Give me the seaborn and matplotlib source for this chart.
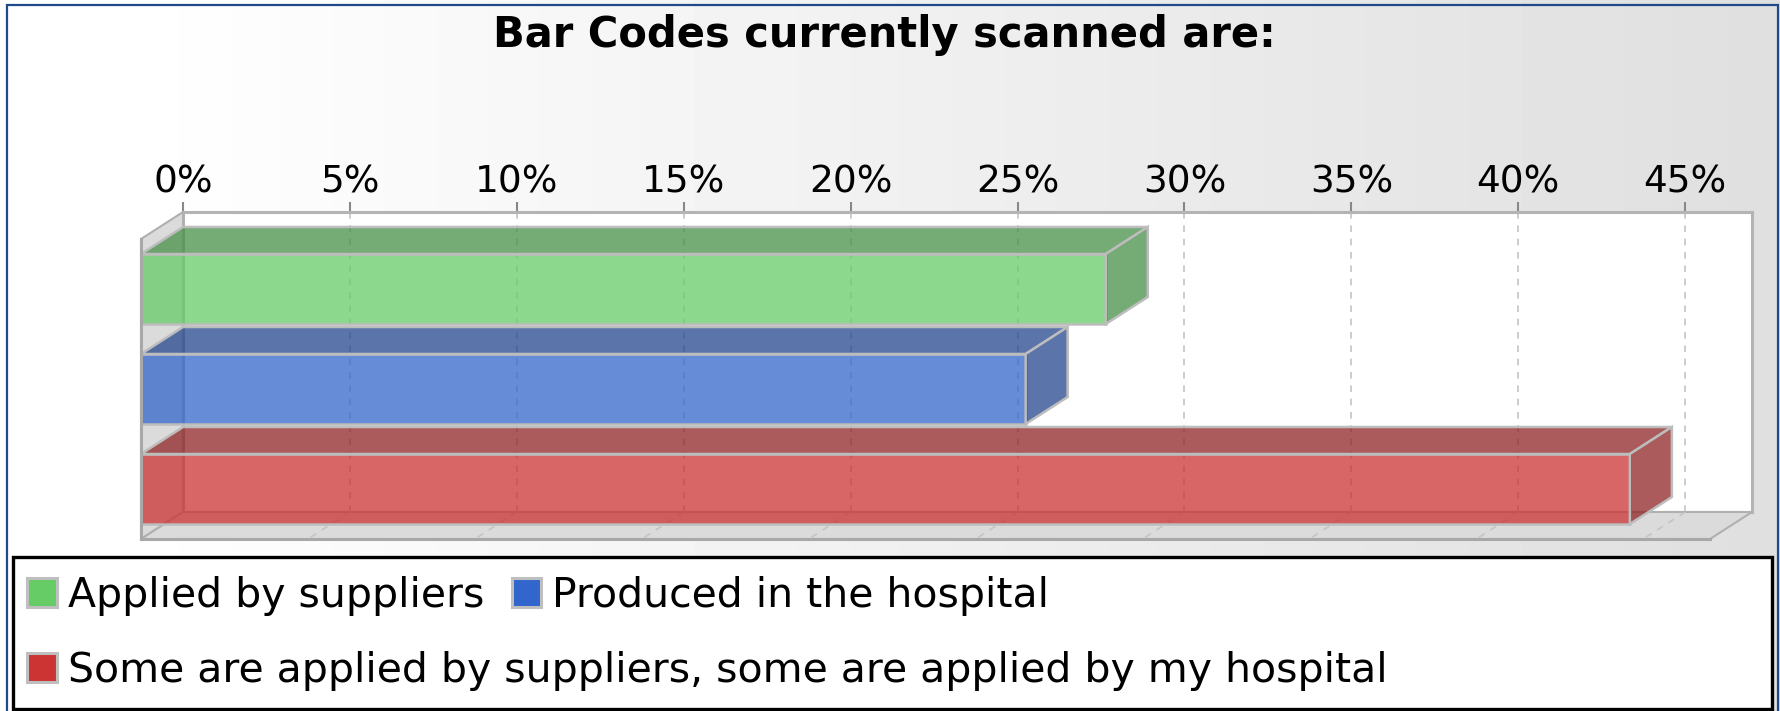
import numpy as np
import pandas as pd
import matplotlib
matplotlib.use("Agg")
import matplotlib.pyplot as plt
import seaborn as sns
from matplotlib.patches import Polygon, Patch, Rectangle
from matplotlib.colors import to_rgba, to_rgb

TITLE = "Bar Codes currently scanned are:"
categories = [
    "Applied by suppliers",
    "Produced in the hospital",
    "Some are applied by suppliers, some are applied by my hospital",
]
shares = [28.9, 26.5, 44.6]          # percent of answers
colors = ["#66CC66", "#3366CC", "#CC3333"]
tick_values = [0, 5, 10, 15, 20, 25, 30, 35, 40, 45]
tick_labels = ["0%", "5%", "10%", "15%", "20%", "25%", "30%", "35%", "40%", "45%"]
x_max = 47.0

W, H, DPI = 1780, 711, 100
DX, DY = 42, 27                      # 3d depth of the plot, in pixels
FRONT = (141, 239, 1710, 539)        # front plane: left, top, right, bottom (px)
EDGE = "#BDBDBD"
ALPHA = 0.75


def px_rect(l, t, r, b):
    return [l / W, 1 - b / H, (r - l) / W, (b - t) / H]


sns.set_theme(style="white")
plt.rcParams["font.family"] = ["DejaVu Sans"]
plt.rcParams["text.color"] = "black"

fig = plt.figure(figsize=(W / DPI, H / DPI), dpi=DPI)

# --- background: white on the left fading to light grey ---
bg = fig.add_axes([0, 0, 1, 1], zorder=-10)
xs = np.linspace(0, 1, 400)
shade = 1 - 0.125 * np.clip((xs - 0.07) / 0.93, 0, 1)
bg.imshow(shade[None, :], cmap="gray", vmin=0, vmax=1, aspect="auto",
          extent=[0, 1, 0, 1])
bg.set_axis_off()

# --- back wall (carries the value axis and the grid) ---
l, t, r, b = FRONT
ax_back = fig.add_axes(px_rect(l + DX, t - DY, r + DX, b - DY), zorder=1)
ax_back.set_facecolor("white")
ax_back.set_xlim(0, x_max)
ax_back.set_ylim(0, 1)
ax_back.set_yticks([])
ax_back.set_xticks(tick_values, tick_labels)
ax_back.tick_params(axis="x", top=True, bottom=False, labeltop=True,
                    labelbottom=False, length=7, width=1.5, color="#888888",
                    pad=1, labelsize=27, labelcolor="black")
ax_back.grid(axis="x", color="#C4C4C4", linestyle=(0, (4, 4)), linewidth=1.2)
for sp in ax_back.spines.values():
    sp.set_color("#B4B4B4")
    sp.set_linewidth(2.2)

# --- front plane with the bars ---
ax = fig.add_axes(px_rect(*FRONT), zorder=2)
ax.patch.set_alpha(0)
df = pd.DataFrame({"category": categories, "share": shares})
sns.barplot(data=df, x="share", y="category", hue="category", palette=colors,
            orient="h", width=0.7, saturation=1, legend=False, ax=ax)
ax.set_xlim(0, x_max)
ax.set_ylim(2.5, -0.5)
ax.set_xticks([])
ax.set_yticks([])
ax.set_xlabel("")
ax.set_ylabel("")
for side in ["top", "right"]:
    ax.spines[side].set_visible(False)
for side in ["left", "bottom"]:
    ax.spines[side].set_color("#A8A8A8")
    ax.spines[side].set_linewidth(2.2)

# depth offsets in data units
dxd = DX / ((r - l) / x_max)
dyd = DY / ((b - t) / 3.0)
y_top, y_bot = -0.5, 2.5

bars = list(ax.patches)

wall = "#DBDBDB"
left_wall = Polygon([(0, y_bot), (0, y_top), (dxd, y_top - dyd), (dxd, y_bot - dyd)],
                    closed=True, facecolor=wall, edgecolor="#B0B0B0",
                    linewidth=1.5, zorder=0.2, clip_on=False)
floor = Polygon([(0, y_bot), (dxd, y_bot - dyd), (x_max + dxd, y_bot - dyd), (x_max, y_bot)],
                closed=True, facecolor=wall, edgecolor="#B0B0B0",
                linewidth=1.5, zorder=0.2, clip_on=False)
ax.add_patch(left_wall)
ax.add_patch(floor)
for tv in tick_values[1:]:
    ax.plot([tv + dxd, tv], [y_bot - dyd, y_bot], color="#C4C4C4",
            linestyle=(0, (4, 4)), linewidth=1.2, zorder=0.3, clip_on=False)

# bar faces: front (translucent), top and right side (darker)
for p, c in zip(bars, colors):
    p.set_alpha(None)
    p.set_facecolor(to_rgba(c, ALPHA))
    p.set_edgecolor(EDGE)
    p.set_linewidth(1.8)
    p.set_zorder(2)
    x0, w = p.get_x(), p.get_width()
    y0, h = p.get_y(), p.get_height()
    dark = tuple(v * 0.7 for v in to_rgb(c)) + (ALPHA,)
    top = Polygon([(x0, y0), (x0 + w, y0), (x0 + w + dxd, y0 - dyd), (x0 + dxd, y0 - dyd)],
                  closed=True, facecolor=dark, edgecolor=EDGE, linewidth=1.8,
                  zorder=2, clip_on=False)
    side = Polygon([(x0 + w, y0), (x0 + w, y0 + h), (x0 + w + dxd, y0 + h - dyd),
                    (x0 + w + dxd, y0 - dyd)],
                   closed=True, facecolor=dark, edgecolor=EDGE, linewidth=1.8,
                   zorder=2, clip_on=False)
    ax.add_patch(top)
    ax.add_patch(side)

# --- title ---
fig.text(884 / W, 1 - 47 / H, TITLE, ha="center", va="baseline",
         fontsize=30, fontweight="bold", color="black")

# --- legend box, two rows like the original ---
fig.add_artist(Rectangle((13 / W, 1 - 709 / H), (1772 - 13) / W, (709 - 557) / H,
                         transform=fig.transFigure, facecolor="white",
                         edgecolor="black", linewidth=2.4, zorder=3))
handles = [Patch(facecolor=c, edgecolor="#BFBFBF", linewidth=2.2) for c in colors]
leg_kw = dict(loc="center left", frameon=False, fontsize=29.5, labelcolor="black",
              handlelength=0.72, handleheight=0.72, handletextpad=0.27,
              columnspacing=0.68, borderpad=0, borderaxespad=0)
leg1 = fig.legend(handles[:2], categories[:2], ncol=2,
                  bbox_to_anchor=(27 / W, 1 - 596 / H), **leg_kw)
leg2 = fig.legend(handles[2:], categories[2:], ncol=1,
                  bbox_to_anchor=(27 / W, 1 - 671 / H), **leg_kw)
leg1.set_zorder(5)
leg2.set_zorder(5)

# outer navy border of the image
fig.add_artist(Rectangle((6.5 / W, -0.01), (1778 - 6.5) / W, 1 - 5 / H + 0.01,
                         transform=fig.transFigure, facecolor="none",
                         edgecolor="#1F4A8A", linewidth=1.6, zorder=6))

fig.savefig("out.png", dpi=DPI)
